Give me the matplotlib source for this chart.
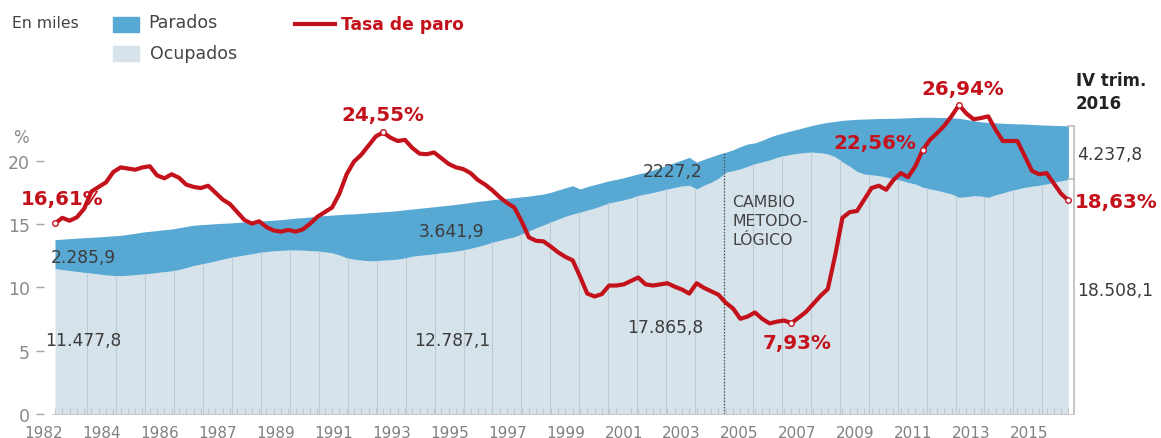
import matplotlib.pyplot as plt
import numpy as np
from matplotlib.patches import Rectangle
from matplotlib.lines import Line2D

# trimestres 1982-I ... 2016-IV (indice 0..139)
tasa_paro = [16.61, 17.1, 16.85, 17.15, 17.9, 19.4, 19.8, 20.2,
             21.1, 21.5, 21.4, 21.3, 21.5, 21.6, 20.8, 20.55,
             20.9, 20.6, 20.0, 19.8, 19.7, 19.9, 19.3, 18.7,
             18.3, 17.6, 16.9, 16.6, 16.8, 16.3, 16.0, 15.9,
             16.05, 15.9, 16.1, 16.6, 17.2, 17.6, 18.0, 19.2,
             20.9, 22.0, 22.6, 23.4, 24.2, 24.55, 24.1, 23.8,
             23.9, 23.2, 22.7, 22.65, 22.8, 22.3, 21.8, 21.5,
             21.35, 21.0, 20.4, 20.0, 19.5, 18.9, 18.4, 18.0,
             16.8, 15.4, 15.1, 15.05, 14.6, 14.1, 13.7, 13.4,
             12.0, 10.5, 10.25, 10.45, 11.2, 11.2, 11.3, 11.6,
             11.9, 11.3, 11.2, 11.3, 11.4, 11.1, 10.85, 10.5,
             11.4, 11.0, 10.7, 10.4, 9.7, 9.2, 8.3, 8.5,
             8.85, 8.3, 7.9, 8.05, 8.15, 7.93, 8.4, 8.9,
             9.6, 10.3, 10.9, 13.8, 17.1, 17.6, 17.7, 18.7,
             19.7, 19.9, 19.55, 20.4, 21.0, 20.65, 21.6, 23.0,
             23.9, 24.5, 25.15, 26.0, 26.94, 26.2, 25.7, 25.8,
             25.95, 24.8, 23.8, 23.8, 23.8, 22.5, 21.2, 20.9,
             21.0, 20.1, 19.2, 18.63]

# millones de personas
ocupados = [11.48, 11.40, 11.32, 11.25, 11.18, 11.12, 11.05, 10.98,
            10.93, 10.92, 10.95, 11.00, 11.05, 11.10, 11.17, 11.24,
            11.30, 11.40, 11.55, 11.72, 11.84, 11.95, 12.08, 12.22,
            12.35, 12.45, 12.55, 12.65, 12.75, 12.82, 12.88, 12.92,
            12.94, 12.95, 12.93, 12.90, 12.86, 12.80, 12.72, 12.55,
            12.32, 12.22, 12.15, 12.10, 12.10, 12.14, 12.18, 12.22,
            12.32, 12.45, 12.52, 12.58, 12.64, 12.72, 12.78, 12.86,
            12.95, 13.08, 13.22, 13.38, 13.55, 13.70, 13.85, 13.98,
            14.20, 14.45, 14.70, 14.92, 15.15, 15.38, 15.60, 15.78,
            15.92, 16.10, 16.25, 16.45, 16.65, 16.78, 16.90, 17.05,
            17.25, 17.36, 17.48, 17.62, 17.75, 17.88, 18.00, 18.05,
            17.76, 18.05, 18.29, 18.60, 19.08, 19.20, 19.35, 19.55,
            19.75, 19.90, 20.05, 20.25, 20.39, 20.50, 20.58, 20.65,
            20.66, 20.62, 20.52, 20.30, 19.90, 19.55, 19.15, 18.94,
            18.88, 18.81, 18.70, 18.55, 18.45, 18.28, 18.15, 17.90,
            17.76, 17.65, 17.50, 17.36, 17.10, 17.15, 17.23, 17.20,
            17.10, 17.30, 17.45, 17.62, 17.75, 17.89, 17.98, 18.05,
            18.15, 18.30, 18.40, 18.51]

# ocupados + parados
activos = [13.76, 13.80, 13.84, 13.88, 13.92, 13.95, 13.98, 14.02,
           14.06, 14.10, 14.18, 14.26, 14.36, 14.42, 14.48, 14.55,
           14.60, 14.70, 14.80, 14.90, 14.94, 14.98, 15.02, 15.05,
           15.08, 15.12, 15.15, 15.18, 15.22, 15.26, 15.30, 15.34,
           15.40, 15.46, 15.50, 15.55, 15.62, 15.66, 15.70, 15.74,
           15.78, 15.80, 15.84, 15.88, 15.92, 15.96, 16.00, 16.05,
           16.12, 16.18, 16.24, 16.30, 16.36, 16.42, 16.48, 16.55,
           16.62, 16.70, 16.78, 16.84, 16.92, 16.97, 17.02, 17.08,
           17.14, 17.20, 17.28, 17.36, 17.50, 17.68, 17.85, 18.02,
           17.76, 17.95, 18.10, 18.25, 18.41, 18.52, 18.65, 18.80,
           18.95, 19.08, 19.25, 19.45, 19.65, 19.85, 20.05, 20.26,
           19.87, 20.10, 20.30, 20.50, 20.66, 20.85, 21.10, 21.31,
           21.40, 21.60, 21.85, 22.05, 22.20, 22.36, 22.50, 22.65,
           22.80, 22.92, 23.02, 23.10, 23.18, 23.22, 23.26, 23.28,
           23.30, 23.32, 23.33, 23.34, 23.36, 23.38, 23.40, 23.42,
           23.42, 23.41, 23.40, 23.38, 23.34, 23.25, 23.15, 23.06,
           23.02, 22.98, 22.95, 22.92, 22.90, 22.89, 22.86, 22.82,
           22.80, 22.78, 22.76, 22.75]

etiquetas_x = ['1982', '1984', '1986', '1987', '1989', '1991', '1993', '1995', '1997',
               '1999', '2001', '2003', '2005', '2007', '2009', '2011', '2013', '2015']

# puntos destacados (indice trimestre, texto, posicion del texto en px)
destacados = [(0, '16,61%'), (45, '24,55%'), (101, '7,93%'), (119, '22,56%'), (124, '26,94%'), (139, '18,63%')]

ROJO = '#c4121c'
AZUL = '#58a8d4'
CLARO = '#d6e3ea'
GRIS = '#3c3c3c'

W, H = 1161, 439
def fx(x):
    return x / W
def fy(y):
    return 1 - y / H

x = np.arange(len(ocupados))

fig = plt.figure(figsize=(W / 100, H / 100), dpi=100)
ax = fig.add_axes([fx(44), fy(415), (W - 44) / W, (415 - 60) / H])
ax.set_xlim(-1.51, 151.7)
ax.set_ylim(0, 28.02)

ax.fill_between(x, 0, ocupados, color=CLARO, lw=0)
ax.fill_between(x, ocupados, activos, color=AZUL, lw=0)

# lineas anuales dentro del area de ocupados
for j in range(1, 35):
    p = 0.45 + 3.97 * j
    ax.plot([p, p], [0, np.interp(p, x, ocupados)], color='#bccbd5', lw=0.8)

# cambio metodologico
xc = 91.8
ax.plot([xc, xc], [0, np.interp(xc, x, activos)], color='#444444', lw=0.9, ls=(0, (1, 1.5)))

# corchete derecho
xb = 139.8
ax.plot([xb, xb], [0, activos[-1]], color='#bbbbbb', lw=1.2, clip_on=False)
ax.plot([x[-1], xb], [activos[-1], activos[-1]], color='#bbbbbb', lw=1.2)
ax.plot([x[-1], xb], [ocupados[-1], ocupados[-1]], color='#bbbbbb', lw=1.2)

for s in ['top', 'right', 'left']:
    ax.spines[s].set_visible(False)
ax.spines['bottom'].set_color('#cccccc')
ax.spines['bottom'].set_bounds(-0.4, xb)

ax.set_yticks([0, 5, 10, 15, 20])
ax.tick_params(axis='y', length=5.8, width=1, color='#aaaaaa', pad=4.3,
               labelsize=12.5, labelcolor='#8a8a8a')
ax.set_xticks([-1.5 + 7.95 * k for k in range(len(etiquetas_x))])
ax.set_xticklabels(etiquetas_x)
ax.set_xticks(x, minor=True)
ax.tick_params(axis='x', which='major', length=0, pad=8, labelsize=11, labelcolor='#808080')
ax.tick_params(axis='x', which='minor', length=4, width=0.8, direction='in', color='#bfc8cc')

# tasa de paro en su propia escala
ax2 = ax.twinx()
ax2.set_ylim(0, 30.95)
ax2.axis('off')
ax2.plot(x, tasa_paro, color=ROJO, lw=3, solid_joinstyle='round', solid_capstyle='round')
idx = [d[0] for d in destacados]
ax2.plot(idx, [tasa_paro[i] for i in idx], 'o', ms=4, mfc='white', mec=ROJO, mew=1, clip_on=False)

# textos
fig.text(fx(62), fy(200), '16,61%', color=ROJO, fontsize=14.3, weight='bold', ha='center', va='center')
fig.text(fx(383), fy(115), '24,55%', color=ROJO, fontsize=14.3, weight='bold', ha='center', va='center')
fig.text(fx(963), fy(90), '26,94%', color=ROJO, fontsize=14.3, weight='bold', ha='center', va='center')
fig.text(fx(875), fy(143), '22,56%', color=ROJO, fontsize=14.3, weight='bold', ha='center', va='center')
fig.text(fx(797), fy(344), '7,93%', color=ROJO, fontsize=14.3, weight='bold', ha='center', va='center')
fig.text(fx(1075), fy(203), '18,63%', color=ROJO, fontsize=14.3, weight='bold', ha='left', va='center')

fig.text(fx(83), fy(258), '2.285,9', color=GRIS, fontsize=12.3, ha='center', va='center')
fig.text(fx(83), fy(341), '11.477,8', color=GRIS, fontsize=12.3, ha='center', va='center')
fig.text(fx(452), fy(232), '3.641,9', color=GRIS, fontsize=12.3, ha='center', va='center')
fig.text(fx(452), fy(341), '12.787,1', color=GRIS, fontsize=12.3, ha='center', va='center')
fig.text(fx(673), fy(172), '2227,2', color=GRIS, fontsize=12.3, ha='center', va='center')
fig.text(fx(665), fy(328), '17.865,8', color=GRIS, fontsize=12.3, ha='center', va='center')
fig.text(fx(1077), fy(155), '4.237,8', color=GRIS, fontsize=12.3, ha='left', va='center')
fig.text(fx(1077), fy(291), '18.508,1', color=GRIS, fontsize=12.3, ha='left', va='center')
fig.text(fx(1076), fy(81), 'IV trim.', color='#222222', fontsize=12, weight='bold', ha='left', va='center')
fig.text(fx(1076), fy(104), '2016', color='#222222', fontsize=12, weight='bold', ha='left', va='center')

for t, yy in [('CAMBIO', 203), ('METODO-', 222), ('LÓGICO', 241)]:
    fig.text(fx(732), fy(yy), t, color='#444444', fontsize=11.3, ha='left', va='center')

fig.text(fx(21), fy(138), '%', color='#8a8a8a', fontsize=12, ha='center', va='center')

# leyenda
fig.text(fx(12), fy(23), 'En miles', color='#444444', fontsize=11.3, ha='left', va='center')
fig.patches.append(Rectangle((fx(113), fy(33)), 26 / W, 15 / H, color=AZUL, transform=fig.transFigure))
fig.patches.append(Rectangle((fx(113), fy(62)), 26 / W, 15 / H, color=CLARO, transform=fig.transFigure))
fig.text(fx(148), fy(23), 'Parados', color='#444444', fontsize=12.5, ha='left', va='center')
fig.text(fx(150), fy(54), 'Ocupados', color='#444444', fontsize=12.5, ha='left', va='center')
fig.lines.append(Line2D([fx(295), fx(335)], [fy(25), fy(25)], color=ROJO, lw=3, transform=fig.transFigure))
fig.text(fx(341), fy(25), 'Tasa de paro', color=ROJO, fontsize=12.3, weight='bold', ha='left', va='center')

fig.savefig('out.png', dpi=100)
